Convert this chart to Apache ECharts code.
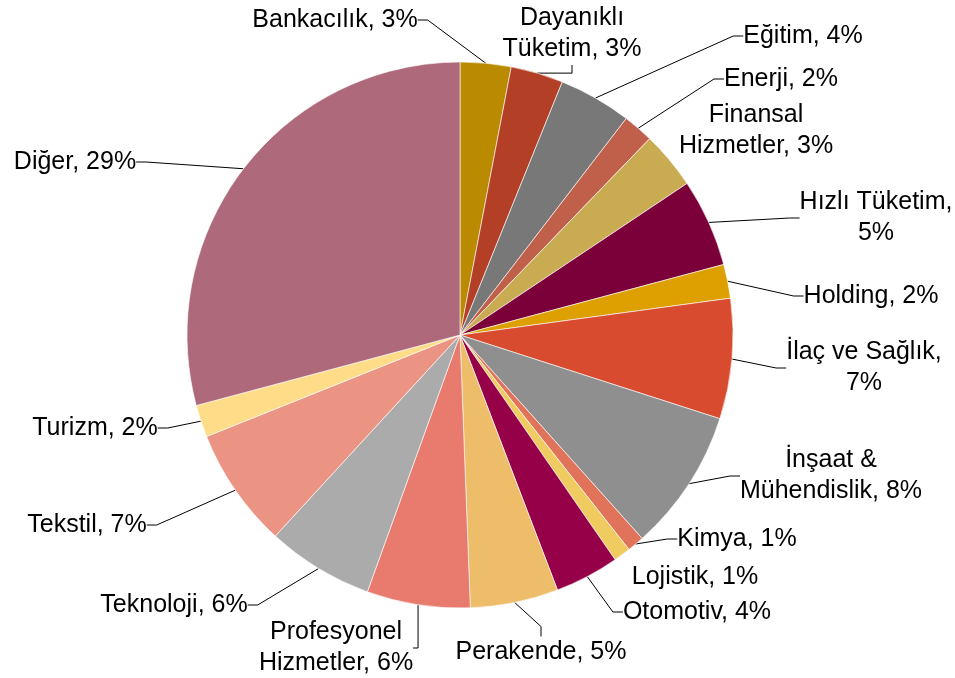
<!DOCTYPE html>
<html>
<head>
    <meta charset="utf-8">
    <title>Sektör dağılımı</title>
    <script src="https://cdn.jsdelivr.net/npm/echarts@6/dist/echarts.min.js"></script>
    <style type="text/css">
        *{margin: 0;padding: 0;}
        body{background: #fff;overflow: hidden;}
    </style>
</head>
<body>
<div id="main" style="width: 955px;height: 678px;"></div>
<script type="text/javascript">
    // sektörler (saat yönünde, tepeden başlayarak)
    var sectors = ['Bankacılık','Dayanıklı\nTüketim','Eğitim','Enerji','Finansal\nHizmetler','Hızlı Tüketim,\n','Holding',
        'İlaç ve Sağlık,\n','İnşaat &\nMühendislik','Kimya','Lojistik','Otomotiv','Perakende','Profesyonel\nHizmetler',
        'Teknoloji','Tekstil','Turizm','Diğer'];
    // dilim payları (%)
    var shares = [3.0, 3.1, 4.3, 1.8, 3.4, 5.2, 2.0, 7.1, 8.4, 1.0, 1.0, 3.8, 5.2, 6.1, 6.3, 7.1, 1.9, 29.1];
    var colors = ['#BA8A00','#B33F26','#787878','#C0604A','#C9AB52','#7B003A','#DDA000','#D84B2F','#8F8F8F',
        '#E0735A','#F0CC60','#960048','#EEBD6A','#E87B6E','#ABABAB','#EB9484','#FFDC88','#AE6A7A'];
    // etiket merkezleri (px)
    var labelPos = [[335,20],[572,34],[803,36],[781,79],[756,131],[876,218],[871,296],[864,368],[831,476],
        [737,539],[695,577],[697,612],[541,652],[336,648],[174,605],[87,525],[95,428],[75,162]];

    var myChart = echarts.init(document.getElementById('main'));
    var pieData = [];
    for(var i = 0;i < sectors.length;i++){
        pieData.push({
            name: sectors[i],
            value: shares[i],
            itemStyle: {color: colors[i]},
            labelLine: {show: i != 4 && i != 10}
        });
    }
    var option = {
        animation: false,
        series: [
            {
                type: 'pie',
                center: [460, 335],
                radius: 273,
                startAngle: 90,
                clockwise: true,
                avoidLabelOverlap: false,
                itemStyle: {
                    borderColor: '#fff',
                    borderWidth: 0.6
                },
                label: {
                    show: true,
                    fontFamily: 'Liberation Sans, Arial',
                    fontSize: 25,
                    lineHeight: 31,
                    color: '#000',
                    align: 'center',
                    formatter: function (p) {
                        var pct = Math.round(p.percent) + '%';
                        if(p.name.charAt(p.name.length - 1) == '\n'){
                            return p.name + pct;
                        }
                        return p.name + ', ' + pct;
                    }
                },
                labelLine: {
                    show: true,
                    length: 10,
                    length2: 10,
                    lineStyle: {color: '#000', width: 1}
                },
                labelLayout: function (params) {
                    var pos = labelPos[params.dataIndex];
                    return {
                        x: pos[0],
                        y: pos[1],
                        align: 'center',
                        verticalAlign: 'middle'
                    };
                },
                data: pieData
            }
        ]
    };
    myChart.setOption(option);
</script>
</body>
</html>
